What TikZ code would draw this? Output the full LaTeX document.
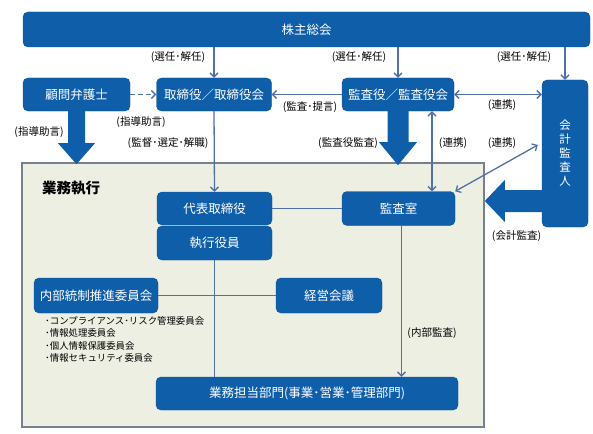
\documentclass[tikz,border=0pt]{standalone}
\usepackage{fontspec}
\setmainfont{Noto Sans CJK JP}
\usepackage{tikz}
\usetikzlibrary{positioning, calc}
\usetikzlibrary{arrows.meta}
\definecolor{boxblue}{RGB}{14,94,170}
\definecolor{lineblue}{RGB}{78,114,168}
\definecolor{execbg}{RGB}{237,239,227}
\definecolor{execframe}{RGB}{118,128,142}

\begin{document}
\begin{tikzpicture}[x=1pt,y=-1pt]
	\def \rowtop{29.5}
	\def \rowone{94.5}
	\def \rowtwo{208.5}
	\def \rowthree{295.5}
	\def \rowbottom{393.5}
	\tikzstyle{org-node}=[rectangle,rounded corners=5pt,fill=boxblue,draw=boxblue!85!black,text=white,font=\fontsize{12.5}{14}\selectfont,inner sep=0pt,minimum height=33pt]
	\tikzstyle{rel-lbl}=[font=\fontsize{10.5}{12}\selectfont,inner sep=1pt]
	\tikzstyle{rel-line}=[draw=lineblue,line width=1.3pt]
	\tikzstyle{rel-arr}=[rel-line,-{Straight Barb[length=4pt,width=8pt]}]
	\tikzstyle{rel-both}=[rel-line,{Straight Barb[length=4pt,width=8pt]}-{Straight Barb[length=4pt,width=8pt]}]
	\tikzstyle{big-arr}=[fill=boxblue]
	\useasboundingbox (0,0) rectangle (593,433);

	% business execution frame
	\node[draw=execframe,fill=execbg,line width=1.2pt,minimum width=462pt,minimum height=264pt,inner sep=0pt] (exec) at (253,295) {};
	\node[font=\fontsize{14.5}{16}\selectfont\bfseries] (execlbl) at (71,188) {業務執行};

	% governance
	\node[org-node,minimum width=567pt,minimum height=35pt] (sh) at (306.5,\rowtop) {株主総会};
	\node[org-node,minimum width=107pt] (komon) at (76.5,\rowone) {顧問弁護士};
	\node[org-node,minimum width=115pt] (tori) at (214,\rowone) {取締役／取締役会};
	\node[org-node,minimum width=112pt] (kansa) at (398,\rowone) {監査役／監査役会};
	\node[org-node,minimum width=46pt,minimum height=147pt,align=center,font=\fontsize{11.5}{14}\selectfont] (kaikei) at (565,153.5) {会\\計\\監\\査\\人};

	% execution
	\node[org-node,minimum width=115pt] (daihyo) at (214.5,\rowtwo) {代表取締役};
	\node[org-node,minimum width=115pt,minimum height=34pt] (shikko) at (214.5,243) {執行役員};
	\node[org-node,minimum width=113pt,minimum height=34pt] (kansashitsu) at (398.5,\rowtwo) {監査室};
	\node[org-node,minimum width=124pt,minimum height=35pt] (naibu) at (96,\rowthree) {内部統制推進委員会};
	\node[org-node,minimum width=106pt,minimum height=35pt] (keiei) at (329,\rowthree) {経営会議};
	\node[org-node,minimum width=302pt] (gyomu) at (307,\rowbottom) {業務担当部門(事業･営業･管理部門)};
	\node[anchor=north west,align=left,inner sep=0pt,font=\fontsize{9.4}{12.3}\selectfont] (iinkai) at (45,316.5) {･コンプライアンス･リスク管理委員会\\･情報処理委員会\\･個人情報保護委員会\\･情報セキュリティ委員会};

	% relations
	\path (tori |- sh.south) edge[rel-arr] (tori.north)
		(kansa |- sh.south) edge[rel-arr] (kansa.north)
		(kaikei |- sh.south) edge[rel-arr] (kaikei.north)
		(komon.east) edge[rel-arr,dash pattern=on 5pt off 3pt] (tori.west)
		(kansa.west) edge[rel-arr] (tori.east)
		(kansa.east) edge[rel-both] (kansa.east -| kaikei.west)
		(tori.south) edge[rel-arr] (daihyo.north)
		([xshift=34pt]kansa.south) edge[rel-both] ([xshift=34pt]kansa.south |- kansashitsu.north)
		($(kaikei.west)+(-4,-8.5)$) edge[rel-both] (kansashitsu.north east)
		(daihyo.east) edge[rel-line] (kansashitsu.west)
		(naibu.east) edge[rel-line] (keiei.west)
		(shikko.south) edge[rel-line] (shikko.south |- gyomu.north)
		([xshift=3pt]kansashitsu.south) edge[rel-arr] ([xshift=3pt]kansashitsu.south |- gyomu.north);

	% big arrows
	\fill[big-arr] (komon.south) ++(-8.5,0) -- ++(0,32) -- ++(-10,0) -- ++(18.5,21) -- ++(18.5,-21) -- ++(-10,0) -- ++(0,-32) -- cycle;
	\fill[big-arr] (kansa.south) ++(-10.5,0) -- ++(0,31) -- ++(-8.5,0) -- ++(19,23) -- ++(19,-23) -- ++(-8.5,0) -- ++(0,-31) -- cycle;
	\fill[big-arr] ($(kaikei.west)+(0,47.5)$) ++(0,-11) -- ++(-37,0) -- ++(0,-10) -- ++(-20,21) -- ++(20,21) -- ++(0,-10) -- ++(37,0) -- cycle;

	% labels
	\node[rel-lbl] (l-sen1) at (178,57) {(選任･解任)};
	\node[rel-lbl] (l-sen2) at (359,57) {(選任･解任)};
	\node[rel-lbl] (l-sen3) at (524,57) {(選任･解任)};
	\node[rel-lbl] (l-shido1) at (141,122) {(指導助言)};
	\node[rel-lbl] (l-shido2) at (39,132) {(指導助言)};
	\node[rel-lbl] (l-kantoku) at (168,143) {(監督･選定･解職)};
	\node[rel-lbl] (l-teigen) at (310,107) {(監査･提言)};
	\node[rel-lbl] (l-renkei1) at (502,105) {(連携)};
	\node[rel-lbl] (l-kansayaku) at (348,143) {(監査役監査)};
	\node[rel-lbl] (l-renkei2) at (453,143) {(連携)};
	\node[rel-lbl] (l-renkei3) at (502,143) {(連携)};
	\node[rel-lbl] (l-kaikei) at (516.5,236) {(会計監査)};
	\node[rel-lbl] (l-naibu) at (432,333) {(内部監査)};
\end{tikzpicture}
\end{document}
